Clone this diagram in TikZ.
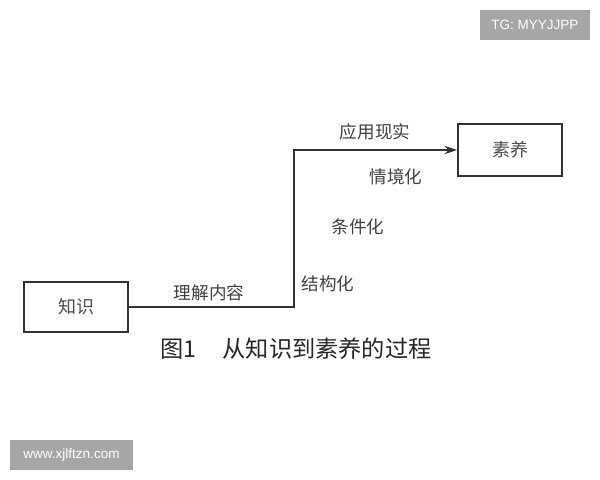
\documentclass[tikz,border=0pt]{standalone}
\usepackage{fontspec}
\newfontfamily\cjk{Noto Sans CJK SC}
\newfontfamily\wmfont{Liberation Sans}
\usetikzlibrary{arrows.meta, positioning}

\begin{document}
\begin{tikzpicture}[x=0.025cm, y=-0.025cm,
  box/.style={draw=black!80, line width=1.3pt, minimum width=2.6cm, minimum height=1.25cm, font=\cjk\fontsize{12.8}{15}\selectfont, text=black!70},
  lbl/.style={font=\cjk\fontsize{12.5}{15}\selectfont, text=black!75},
  caption/.style={font=\cjk\fontsize{16.5}{19}\selectfont, text=black!85},
  flow/.style={draw=black!80, line width=1.4pt, -{Stealth[length=9pt,width=6pt]}},
  wmark/.style={fill=black!35, text=white, font=\wmfont\fontsize{9.6}{11}\selectfont, inner sep=0pt, minimum height=0.75cm}]
\useasboundingbox (0,0) rectangle (600,480);

\node[box] (zhishi) at (76,307) {知识};
\node[box, minimum height=1.3cm] (suyang) at (510,150) {素养};
\coordinate (turn) at (294,150);

\draw[flow] (zhishi.east) -| (turn) -- (suyang.west);

\node[lbl] (lijie) at (209,293) {理解内容};
\node[lbl] (jiegou) at (328,284) {结构化};
\node[lbl] (tiaojian) at (358,227) {条件化};
\node[lbl] (qingjing) at (396,177) {情境化};
\node[lbl] (yingyong) at (375,132) {应用现实};

\node[caption] (title) at (296,349) {图1\hspace{0.65cm}从知识到素养的过程};

% watermarks
\node[wmark, minimum width=2.75cm] (tg) at (535,25) {TG: MYYJJPP};
\node[wmark, minimum width=3.075cm] (site) at (71.5,455) {www.xjlftzn.com};
\end{tikzpicture}
\end{document}
